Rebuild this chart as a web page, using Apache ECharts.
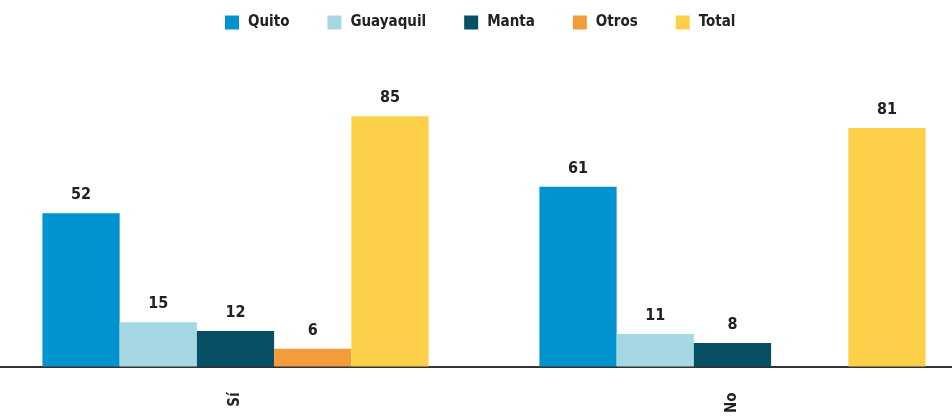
<!DOCTYPE html>
<html>
<head>
<meta charset="utf-8">
<script src="https://cdn.jsdelivr.net/npm/echarts@6/dist/echarts.min.js"></script>
<style>
  html, body { margin: 0; padding: 0; background: #fff; overflow: hidden; }
  #chart { width: 994px; height: 416px; margin-left: -13px; }
</style>
</head>
<body>
<div id="chart"></div>
<script>
  var categories = ['Sí', 'No'];
  var quito = [52, 61];
  var guayaquil = [15, 11];
  var manta = [12, 8];
  var otros = [6, null];
  var total = [85, 81];

  var font = '"DejaVu Sans Condensed", "Liberation Sans Narrow", sans-serif';
  var labelStyle = {
    show: true, position: 'top', distance: 10,
    color: '#222', fontFamily: font, fontWeight: 'bold', fontSize: 16
  };

  function bar(name, data, color) {
    return {
      name: name, type: 'bar', data: data, barGap: 0, barCategoryGap: '22.3%',
      itemStyle: { color: color }, label: labelStyle
    };
  }

  var chart = echarts.init(document.getElementById('chart'));
  chart.setOption({
    animation: false,
    legend: {
      top: 10, left: 233, itemWidth: 14, itemHeight: 14, itemGap: 38,
      icon: 'rect',
      textStyle: { color: '#222', fontFamily: font, fontWeight: 'bold', fontSize: 15, padding: [0, 0, 0, 4] },
      data: ['Quito', 'Guayaquil', 'Manta', 'Otros', 'Total']
    },
    grid: { left: 0, right: 0, top: 72, bottom: 44 },
    xAxis: {
      type: 'category', data: categories,
      axisLine: { lineStyle: { color: '#333', width: 2 } },
      axisTick: { show: false },
      axisLabel: { rotate: 90, margin: 26, color: '#222', fontFamily: font, fontWeight: 'bold', fontSize: 15 }
    },
    yAxis: {
      type: 'value', min: 0, max: 100, show: false,
      splitLine: { show: false }
    },
    series: [
      bar('Quito', quito, '#0093cf'),
      bar('Guayaquil', guayaquil, '#a6d8e3'),
      bar('Manta', manta, '#064f64'),
      bar('Otros', otros, '#f29c3b'),
      bar('Total', total, '#fdd04a')
    ]
  });
</script>
</body>
</html>
